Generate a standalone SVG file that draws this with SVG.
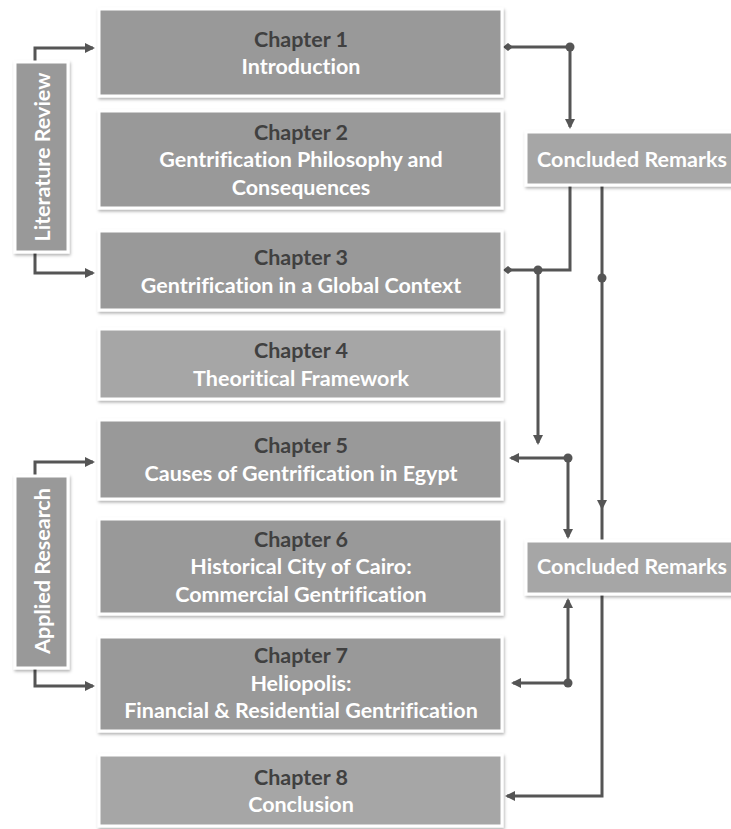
<svg xmlns="http://www.w3.org/2000/svg" width="731" height="829" viewBox="0 0 731 829">
<style>
  .box{stroke:#ffffff;stroke-width:3;filter:url(#sh);}
  .dk{fill:#999999;}
  .lt{fill:#a6a6a6;}
  text{font-family:Lato,"Liberation Sans",sans-serif;font-weight:bold;font-size:21.5px;text-anchor:middle;font-variant-ligatures:none;}
  .num{fill:#404040;}
  .ttl{fill:#ffffff;}
  .conn{fill:none;stroke:#555555;stroke-width:3;}
  .dot{fill:#555555;}
</style>
<defs>
  <filter id="sh" x="-5%" y="-10%" width="115%" height="130%">
    <feDropShadow dx="1" dy="2" stdDeviation="1.5" flood-color="#000" flood-opacity="0.3"/>
  </filter>
  <marker id="ah" markerWidth="10" markerHeight="10" refX="8" refY="5" orient="auto" markerUnits="userSpaceOnUse">
    <path d="M0,0 L10,5 L0,10 z" fill="#555555"/>
  </marker>
  <marker id="dm" markerWidth="10" markerHeight="10" refX="5" refY="5" orient="auto" markerUnits="userSpaceOnUse">
    <path d="M0,5 L5,1 L10,5 L5,9 z" fill="#555555"/>
  </marker>
</defs>

<g id="connectors">
  <path class="conn" d="M35,62 V48 H93" marker-end="url(#ah)"/>
  <path class="conn" d="M35,252 V273 H93" marker-end="url(#ah)"/>
  <path class="conn" d="M35,477 V462 H93" marker-end="url(#ah)"/>
  <path class="conn" d="M35,667 V686 H93" marker-end="url(#ah)"/>

  <path class="conn" d="M508,47 H570 V127" marker-start="url(#dm)" marker-end="url(#ah)"/>
  <path class="conn" d="M570,186 V270 H508" marker-end="url(#dm)"/>
  <path class="conn" d="M538,270 V443" marker-end="url(#ah)"/>
  <path class="conn" d="M602,186 V508" marker-end="url(#ah)"/>
  <path class="conn" d="M602,508 V796 H507" marker-end="url(#ah)"/>
  <path class="conn" d="M568,458 H511" marker-end="url(#ah)"/>
  <path class="conn" d="M568,458 V537" marker-end="url(#ah)"/>
  <path class="conn" d="M568,683 H513" marker-end="url(#ah)"/>
  <path class="conn" d="M568,683 V600" marker-end="url(#ah)"/>
  <circle class="dot" cx="570" cy="47" r="4.5"/>
  <circle class="dot" cx="538" cy="270" r="4.5"/>
  <circle class="dot" cx="602" cy="278" r="4.5"/>
  <circle class="dot" cx="568" cy="458" r="4.5"/>
  <circle class="dot" cx="568" cy="683" r="4.5"/>
</g>

<g id="lit-review">
  <rect class="box dk" x="15" y="62" width="53" height="190"/>
  <text class="ttl" transform="translate(50,157) rotate(-90)">Literature Review</text>
</g>
<g id="applied-research">
  <rect class="box dk" x="15" y="476" width="53" height="192"/>
  <text class="ttl" transform="translate(50,571) rotate(-90)">Applied Research</text>
</g>

<g id="ch1">
  <rect class="box dk" x="99" y="9" width="403" height="87"/>
  <text class="num" x="301" y="47">Chapter 1</text>
  <text class="ttl" x="301" y="74">Introduction</text>
</g>
<g id="ch2">
  <rect class="box dk" x="99" y="111" width="403" height="97"/>
  <text class="num" x="301" y="140">Chapter 2</text>
  <text class="ttl" x="301" y="167">Gentrification Philosophy and</text>
  <text class="ttl" x="301" y="195">Consequences</text>
</g>
<g id="ch3">
  <rect class="box dk" x="99" y="231" width="403" height="79"/>
  <text class="num" x="301" y="265">Chapter 3</text>
  <text class="ttl" x="301" y="293">Gentrification in a Global Context</text>
</g>
<g id="ch4">
  <rect class="box lt" x="99" y="329" width="403" height="70"/>
  <text class="num" x="301" y="358">Chapter 4</text>
  <text class="ttl" x="301" y="386">Theoritical Framework</text>
</g>
<g id="ch5">
  <rect class="box dk" x="99" y="420" width="403" height="79"/>
  <text class="num" x="301" y="453">Chapter 5</text>
  <text class="ttl" x="301" y="481">Causes of Gentrification in Egypt</text>
</g>
<g id="ch6">
  <rect class="box dk" x="99" y="519" width="403" height="95"/>
  <text class="num" x="301" y="547">Chapter 6</text>
  <text class="ttl" x="301" y="574">Historical City of Cairo:</text>
  <text class="ttl" x="301" y="602">Commercial Gentrification</text>
</g>
<g id="ch7">
  <rect class="box dk" x="99" y="637" width="403" height="94"/>
  <text class="num" x="301" y="663">Chapter 7</text>
  <text class="ttl" x="301" y="691">Heliopolis:</text>
  <text class="ttl" x="301" y="718">Financial &amp; Residential Gentrification</text>
</g>
<g id="ch8">
  <rect class="box lt" x="99" y="755" width="403" height="71"/>
  <text class="num" x="301" y="785">Chapter 8</text>
  <text class="ttl" x="301" y="812">Conclusion</text>
</g>

<g id="cr1">
  <rect class="box lt" x="526" y="132" width="210" height="53"/>
  <text class="ttl" x="632" y="167">Concluded Remarks</text>
</g>
<g id="cr2">
  <rect class="box lt" x="526" y="541" width="210" height="53"/>
  <text class="ttl" x="632" y="574">Concluded Remarks</text>
</g>
</svg>
